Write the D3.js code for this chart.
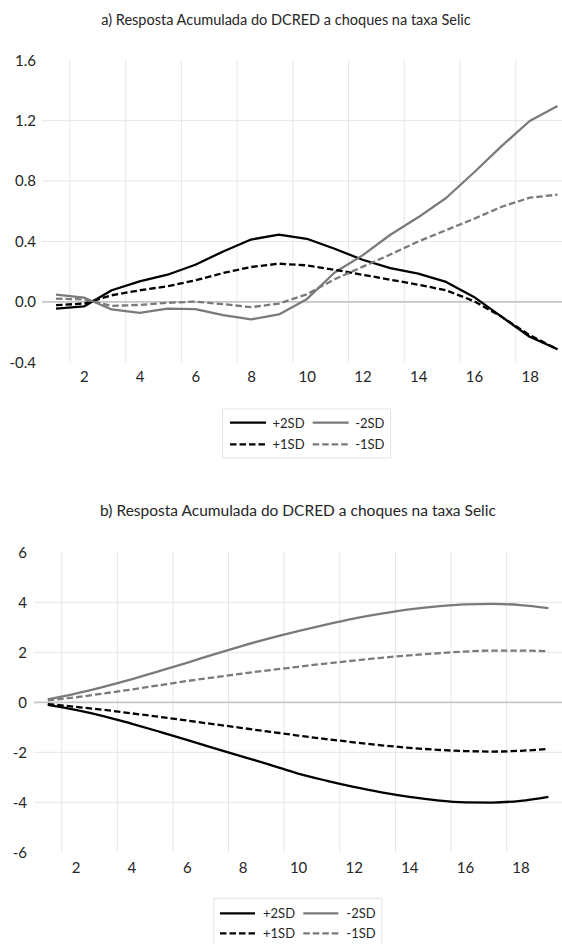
<!DOCTYPE html>
<html>
<head>
<meta charset="utf-8">
<script src="https://cdn.jsdelivr.net/npm/d3@7"></script>
<style>
  html, body { margin: 0; padding: 0; background: #fff; }
  svg { display: block; }
  text { font-family: Lato, "Open Sans", sans-serif; fill: #262626; }
</style>
</head>
<body>
<svg id="chart" width="562" height="944"></svg>
<script>
// Horizon (periods after the shock)
const categories = d3.range(1, 20);

// Panel a) cumulative response, per shock size
const aPlus2SD  = [-0.044, -0.030, 0.077, 0.136, 0.180, 0.246, 0.334, 0.413, 0.446, 0.418, 0.352, 0.279, 0.224, 0.187, 0.132, 0.033, -0.099, -0.231, -0.314];
const aMinus2SD = [0.048, 0.029, -0.050, -0.072, -0.044, -0.048, -0.088, -0.116, -0.083, 0.018, 0.195, 0.308, 0.445, 0.560, 0.688, 0.857, 1.033, 1.198, 1.297];
const aPlus1SD  = [-0.022, -0.011, 0.044, 0.077, 0.103, 0.143, 0.191, 0.231, 0.253, 0.242, 0.213, 0.180, 0.147, 0.114, 0.077, 0.005, -0.099, -0.220, -0.314];
const aMinus1SD = [0.022, 0.016, -0.026, -0.020, -0.006, 0.002, -0.015, -0.035, -0.011, 0.050, 0.150, 0.232, 0.314, 0.400, 0.475, 0.550, 0.630, 0.690, 0.710];

// Panel b) cumulative response, per shock size
const bPlus2SD  = [-0.10, -0.30, -0.55, -0.85, -1.17, -1.50, -1.84, -2.17, -2.50, -2.85, -3.13, -3.38, -3.60, -3.78, -3.92, -4.00, -4.01, -3.94, -3.78];
const bMinus2SD = [0.12, 0.35, 0.62, 0.92, 1.25, 1.58, 1.93, 2.26, 2.57, 2.85, 3.11, 3.35, 3.55, 3.72, 3.84, 3.92, 3.94, 3.89, 3.77];
const bPlus1SD  = [-0.07, -0.18, -0.30, -0.44, -0.58, -0.73, -0.88, -1.03, -1.18, -1.33, -1.47, -1.60, -1.72, -1.82, -1.90, -1.95, -1.97, -1.94, -1.86];
const bMinus1SD = [0.08, 0.20, 0.35, 0.51, 0.68, 0.85, 1.00, 1.15, 1.29, 1.42, 1.55, 1.67, 1.78, 1.88, 1.96, 2.03, 2.07, 2.07, 2.04];

// Axis tick labels
const aYTicks = [-0.4, 0.0, 0.4, 0.8, 1.2, 1.6];
const bYTicks = [-6, -4, -2, 0, 2, 4, 6];
const xTickLabels = [2, 4, 6, 8, 10, 12, 14, 16, 18];

const seriesNames = ["+2SD", "-2SD", "+1SD", "-1SD"];
const titleA = "a) Resposta Acumulada do DCRED a choques na taxa Selic";
const titleB = "b) Resposta Acumulada do DCRED a choques na taxa Selic";

// Series styling (by name)
const styles = {
  "+2SD": { color: "#000000", dash: null },
  "-2SD": { color: "#7a7a7a", dash: null },
  "+1SD": { color: "#000000", dash: "6.5,3" },
  "-1SD": { color: "#7a7a7a", dash: "6.5,3" }
};

// number formats with a plain hyphen for negatives
const hyphen = f => d => f(d).replace("\u2212", "-");

const svg = d3.select("#chart");

function drawPanel(cfg) {
  const g = svg.append("g");
  const x = d3.scaleBand()
    .domain(categories)
    .range([cfg.left, cfg.left + categories.length * cfg.catW])
    .padding(0);
  const y = d3.scaleLinear().domain(cfg.yDomain).range([cfg.bottom, cfg.top]);
  const xc = c => x(c) + x.bandwidth() / 2;
  const plotRight = cfg.left + categories.length * cfg.catW;

  // title
  g.append("text")
    .attr("x", cfg.titleX).attr("y", cfg.titleY)
    .attr("text-anchor", "middle").attr("dominant-baseline", "central")
    .style("font-size", cfg.titleSize + "px")
    .text(cfg.title);

  // vertical gridlines at every second category boundary
  g.append("g").selectAll("line")
    .data(xTickLabels)
    .join("line")
    .attr("x1", d => x(d)).attr("x2", d => x(d))
    .attr("y1", y(cfg.yDomain[1])).attr("y2", y(cfg.yDomain[0]))
    .attr("stroke", "#e6e6e6").attr("stroke-width", 1);

  // horizontal gridlines (interior values)
  const inner = cfg.yTicks.filter(v => v !== 0 && v !== cfg.yDomain[0] && v !== cfg.yDomain[1]);
  g.append("g").selectAll("line")
    .data(inner)
    .join("line")
    .attr("x1", cfg.left).attr("x2", plotRight)
    .attr("y1", d => y(d)).attr("y2", d => y(d))
    .attr("stroke", "#e6e6e6").attr("stroke-width", 1);

  // zero line
  g.append("line")
    .attr("x1", cfg.left).attr("x2", plotRight)
    .attr("y1", y(0)).attr("y2", y(0))
    .attr("stroke", "#c6c6c6").attr("stroke-width", 1.8);

  // y axis labels
  const yAxis = d3.axisLeft(y)
    .tickValues(cfg.yTicks)
    .tickSize(0)
    .tickPadding(0)
    .tickFormat(cfg.yFormat);
  const ya = g.append("g")
    .attr("transform", `translate(${cfg.yLabelX},0)`)
    .call(yAxis);
  ya.select(".domain").remove();
  ya.selectAll("text")
    .style("font-family", "Lato, 'Open Sans', sans-serif")
    .style("font-size", cfg.tickSize + "px")
    .attr("fill", "#262626");

  // x axis labels
  const xPoint = d3.scalePoint().domain(xTickLabels).range([xc(xTickLabels[0]), xc(xTickLabels[xTickLabels.length - 1])]);
  const xAxis = d3.axisBottom(xPoint).tickSize(0).tickPadding(0);
  const xa = g.append("g")
    .attr("transform", `translate(0,${cfg.xLabelY})`)
    .call(xAxis);
  xa.select(".domain").remove();
  xa.selectAll("text")
    .attr("dy", "0.35em").attr("y", 0)
    .style("font-family", "Lato, 'Open Sans', sans-serif")
    .style("font-size", cfg.tickSize + "px")
    .attr("fill", "#262626");

  // series lines
  const line = d3.line()
    .x((d, i) => xc(categories[i]))
    .y(d => y(d))
    .curve(cfg.curve);
  seriesNames.forEach(name => {
    const st = styles[name];
    g.append("path")
      .datum(cfg.series[name])
      .attr("d", line)
      .attr("fill", "none")
      .attr("stroke", st.color)
      .attr("stroke-width", 2.3)
      .attr("stroke-linejoin", "round")
      .attr("stroke-dasharray", st.dash);
  });

  // legend
  const L = cfg.legend;
  const lg = g.append("g");
  lg.append("rect")
    .attr("x", L.x).attr("y", L.y).attr("width", L.w).attr("height", L.h)
    .attr("fill", "#fff").attr("stroke", "#e3e3e3").attr("stroke-width", 1);
  const layout = [
    { name: "+2SD", col: 0, row: 0 }, { name: "-2SD", col: 1, row: 0 },
    { name: "+1SD", col: 0, row: 1 }, { name: "-1SD", col: 1, row: 1 }
  ];
  layout.forEach(it => {
    const st = styles[it.name];
    const lx = L.lineX[it.col];
    const ly = L.rowY[it.row];
    lg.append("line")
      .attr("x1", lx).attr("x2", lx + L.lineLen)
      .attr("y1", ly).attr("y2", ly)
      .attr("stroke", st.color).attr("stroke-width", 2.3)
      .attr("stroke-dasharray", st.dash);
    lg.append("text")
      .attr("x", lx + L.lineLen + L.gap).attr("y", ly)
      .attr("dominant-baseline", "central")
      .style("font-size", L.fontSize + "px")
      .text(it.name);
  });
}

drawPanel({
  title: titleA, titleX: 286, titleY: 19, titleSize: 14.5,
  left: 42.1, catW: 27.86,
  top: 60.3, bottom: 362.3, yDomain: [-0.4, 1.6],
  yTicks: aYTicks, yFormat: hyphen(d3.format(".1f")), yLabelX: 36,
  xLabelY: 377, tickSize: 15,
  curve: d3.curveLinear,
  series: { "+2SD": aPlus2SD, "-2SD": aMinus2SD, "+1SD": aPlus1SD, "-1SD": aMinus1SD },
  legend: { x: 222.7, y: 409, w: 168, h: 49, lineX: [230, 312.7], rowY: [422.7, 444.3], lineLen: 36, gap: 6.5, fontSize: 13 }
});

drawPanel({
  title: titleB, titleX: 298, titleY: 510, titleSize: 15.5,
  left: 33.9, catW: 27.81,
  top: 552.3, bottom: 852.3, yDomain: [-6, 6],
  yTicks: bYTicks, yFormat: hyphen(d3.format("d")), yLabelX: 27,
  xLabelY: 868, tickSize: 15,
  curve: d3.curveMonotoneX,
  series: { "+2SD": bPlus2SD, "-2SD": bMinus2SD, "+1SD": bPlus1SD, "-1SD": bMinus1SD },
  legend: { x: 214, y: 898.3, w: 168, h: 60, lineX: [220, 303.3], rowY: [913.3, 933.3], lineLen: 35, gap: 8, fontSize: 13 }
});
</script>
</body>
</html>
